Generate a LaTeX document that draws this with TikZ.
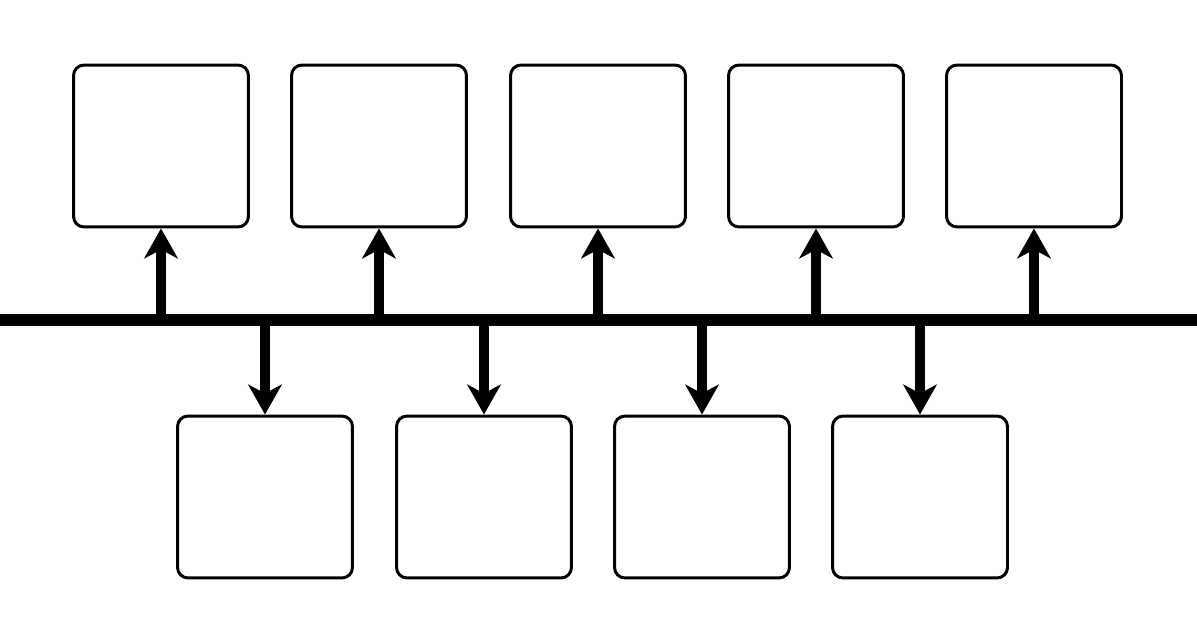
\documentclass[tikz,border=0pt]{standalone}
\usetikzlibrary{arrows.meta}
\tikzset{
  card/.style={draw, line width=1.7pt, rounded corners=6pt, minimum width=3.5cm, minimum height=3.24cm, inner sep=0pt},
  tick/.style={line width=5.7pt, -{Stealth[length=17pt,width=19pt,inset=5pt]}}
}
\begin{document}
\begin{tikzpicture}[x=0.02cm,y=-0.02cm]
  \useasboundingbox (0,0) rectangle (1197,632);
  \draw[line width=6.8pt] (0,320) -- (1197,320);
  % upper row
  \foreach \i/\x in {1/161,2/379,3/598,4/816,5/1034} {
    \node[card] (t\i) at (\x,146) {};
    \coordinate (u\i) at (\x,320);
    \draw[tick] (u\i) -- (t\i.south);
  }
  % lower row
  \foreach \i/\x in {1/265,2/484,3/702,4/920} {
    \node[card] (b\i) at (\x,497) {};
    \coordinate (d\i) at (\x,320);
    \draw[tick] (d\i) -- (b\i.north);
  }
\end{tikzpicture}
\end{document}
